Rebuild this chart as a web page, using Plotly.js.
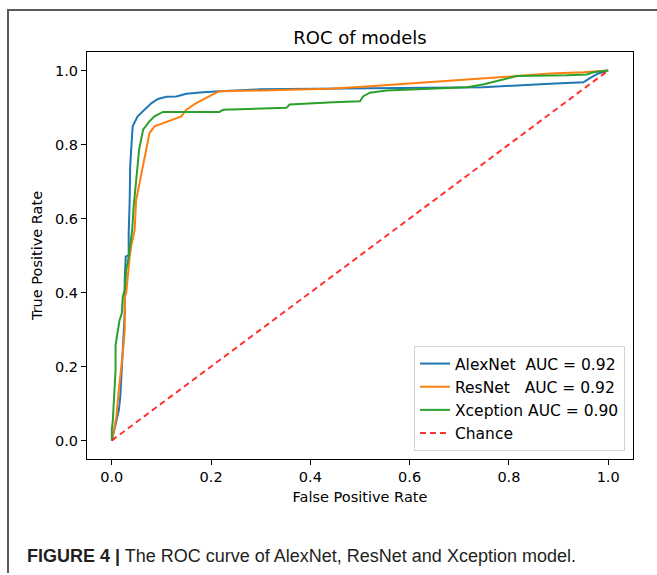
<!DOCTYPE html>
<html>
<head>
<meta charset="utf-8">
<script src="https://cdn.plot.ly/plotly-3.0.1.min.js"></script>
<style>
  html, body { margin: 0; padding: 0; background: #fff; }
  #wrap { position: relative; width: 657px; height: 575px; overflow: hidden; }
  #frame { position: absolute; left: 7px; top: 9px; width: 700px; height: 562px;
           border-left: 2px solid #5a5a5a; border-top: 2px solid #5a5a5a; pointer-events: none; }
  #chart { position: absolute; left: 0; top: 0; width: 657px; height: 575px; }
</style>
</head>
<body>
<div id="wrap">
  <div id="chart"></div>
  <div id="frame"></div>
</div>
<script>
// ---- data ----
const seriesNames = ["AlexNet\u00a0\u00a0AUC = 0.92", "ResNet\u00a0\u00a0\u00a0AUC = 0.92", "Xception AUC = 0.90", "Chance"];

const fprAlexNet = [0, 0.005, 0.010, 0.014, 0.017, 0.019, 0.021, 0.024, 0.026, 0.026, 0.028, 0.034, 0.034, 0.036, 0.037, 0.039, 0.042, 0.052, 0.066, 0.080, 0.093, 0.110, 0.130, 0.150, 0.184, 0.217, 0.298, 0.405, 0.550, 0.748, 0.883, 0.950, 0.964, 0.980, 1.0];
const tprAlexNet = [0, 0.027, 0.054, 0.081, 0.117, 0.163, 0.226, 0.298, 0.343, 0.434, 0.497, 0.501, 0.561, 0.650, 0.741, 0.786, 0.849, 0.876, 0.894, 0.912, 0.923, 0.929, 0.930, 0.937, 0.941, 0.944, 0.949, 0.950, 0.953, 0.955, 0.964, 0.968, 0.980, 0.992, 1.0];

const fprResNet = [0, 0.009, 0.014, 0.019, 0.022, 0.026, 0.026, 0.029, 0.032, 0.036, 0.039, 0.042, 0.046, 0.049, 0.060, 0.069, 0.076, 0.086, 0.103, 0.123, 0.140, 0.150, 0.170, 0.190, 0.217, 0.300, 0.379, 0.439, 0.513, 0.648, 0.748, 0.816, 0.883, 0.950, 1.0];
const tprResNet = [0, 0.063, 0.136, 0.190, 0.235, 0.298, 0.388, 0.398, 0.452, 0.497, 0.524, 0.545, 0.569, 0.650, 0.720, 0.786, 0.831, 0.849, 0.858, 0.867, 0.876, 0.894, 0.912, 0.926, 0.944, 0.946, 0.949, 0.951, 0.957, 0.969, 0.977, 0.985, 0.992, 0.995, 1.0];

const fprXception = [0, 0.0, 0.002, 0.005, 0.0075, 0.0075, 0.012, 0.0155, 0.020, 0.022, 0.026, 0.029, 0.034, 0.039, 0.041, 0.044, 0.048, 0.055, 0.063, 0.076, 0.086, 0.103, 0.217, 0.224, 0.352, 0.358, 0.446, 0.500, 0.506, 0.520, 0.553, 0.648, 0.715, 0.748, 0.782, 0.816, 0.917, 0.957, 0.970, 1.0];
const tprXception = [0, 0.03, 0.054, 0.117, 0.190, 0.257, 0.303, 0.325, 0.343, 0.388, 0.407, 0.461, 0.497, 0.542, 0.569, 0.632, 0.696, 0.786, 0.840, 0.863, 0.876, 0.888, 0.888, 0.894, 0.899, 0.908, 0.914, 0.917, 0.930, 0.940, 0.946, 0.951, 0.955, 0.962, 0.974, 0.985, 0.987, 0.989, 0.995, 1.0];

const fprChance = [0, 1];
const tprChance = [0, 1];

const tickValues = [0, 0.2, 0.4, 0.6, 0.8, 1.0];
const tickLabels = ["0.0", "0.2", "0.4", "0.6", "0.8", "1.0"];

// ---- chart ----
const FONT = "DejaVu Sans, Verdana, sans-serif";
const traces = [
  {x: fprAlexNet, y: tprAlexNet, name: seriesNames[0], mode: "lines", line: {color: "#1f77b4", width: 2}},
  {x: fprResNet, y: tprResNet, name: seriesNames[1], mode: "lines", line: {color: "#ff7f0e", width: 2}},
  {x: fprXception, y: tprXception, name: seriesNames[2], mode: "lines", line: {color: "#2ca02c", width: 2}},
  {x: fprChance, y: tprChance, name: seriesNames[3], mode: "lines", line: {color: "rgba(255,0,0,0.8)", width: 2, dash: "6px,4px"}}
];

const axisCommon = {
  range: [-0.05, 1.05],
  tickvals: tickValues,
  ticktext: tickLabels,
  ticks: "outside",
  ticklen: 5,
  tickwidth: 1,
  tickcolor: "#000",
  showline: true,
  mirror: true,
  linecolor: "#000",
  linewidth: 1,
  showgrid: false,
  zeroline: false,
  tickfont: {family: FONT, size: 14.5, color: "#000"}
};

const layout = {
  width: 657,
  height: 575,
  margin: {l: 87, r: 24, t: 52, b: 116, pad: 0},
  paper_bgcolor: "rgba(0,0,0,0)",
  plot_bgcolor: "#fff",
  font: {family: FONT, color: "#000"},
  title: {text: "ROC of models", font: {family: FONT, size: 18, color: "#000"},
          x: 0.5, xref: "paper", xanchor: "center", y: 1 - 38 / 575, yref: "container", yanchor: "middle"},
  xaxis: Object.assign({}, axisCommon, {
    title: {text: "False Positive Rate", font: {family: FONT, size: 14.5, color: "#000"}, standoff: 7}
  }),
  yaxis: Object.assign({}, axisCommon, {
    title: {text: "True Positive Rate", font: {family: FONT, size: 14.5, color: "#000"}, standoff: 8}
  }),
  showlegend: true,
  legend: {
    x: 0.9853, y: 0.0197, xanchor: "right", yanchor: "bottom",
    bgcolor: "rgba(255,255,255,0.8)", bordercolor: "#d3d3d3", borderwidth: 1,
    font: {family: FONT, size: 15.5, color: "#000"},
    tracegroupgap: 0
  },
  annotations: [{
    text: "<b>FIGURE 4 |</b> The ROC curve of AlexNet, ResNet and Xception model.",
    xref: "paper", yref: "paper",
    x: (25 - 87) / 546, y: (459 - 556) / 407,
    xanchor: "left", yanchor: "middle", showarrow: false,
    font: {family: "Liberation Sans, Arial, sans-serif", size: 18, color: "#231f20"}
  }]
};

Plotly.newPlot("chart", traces, layout, {displayModeBar: false, staticPlot: true});
</script>
</body>
</html>
